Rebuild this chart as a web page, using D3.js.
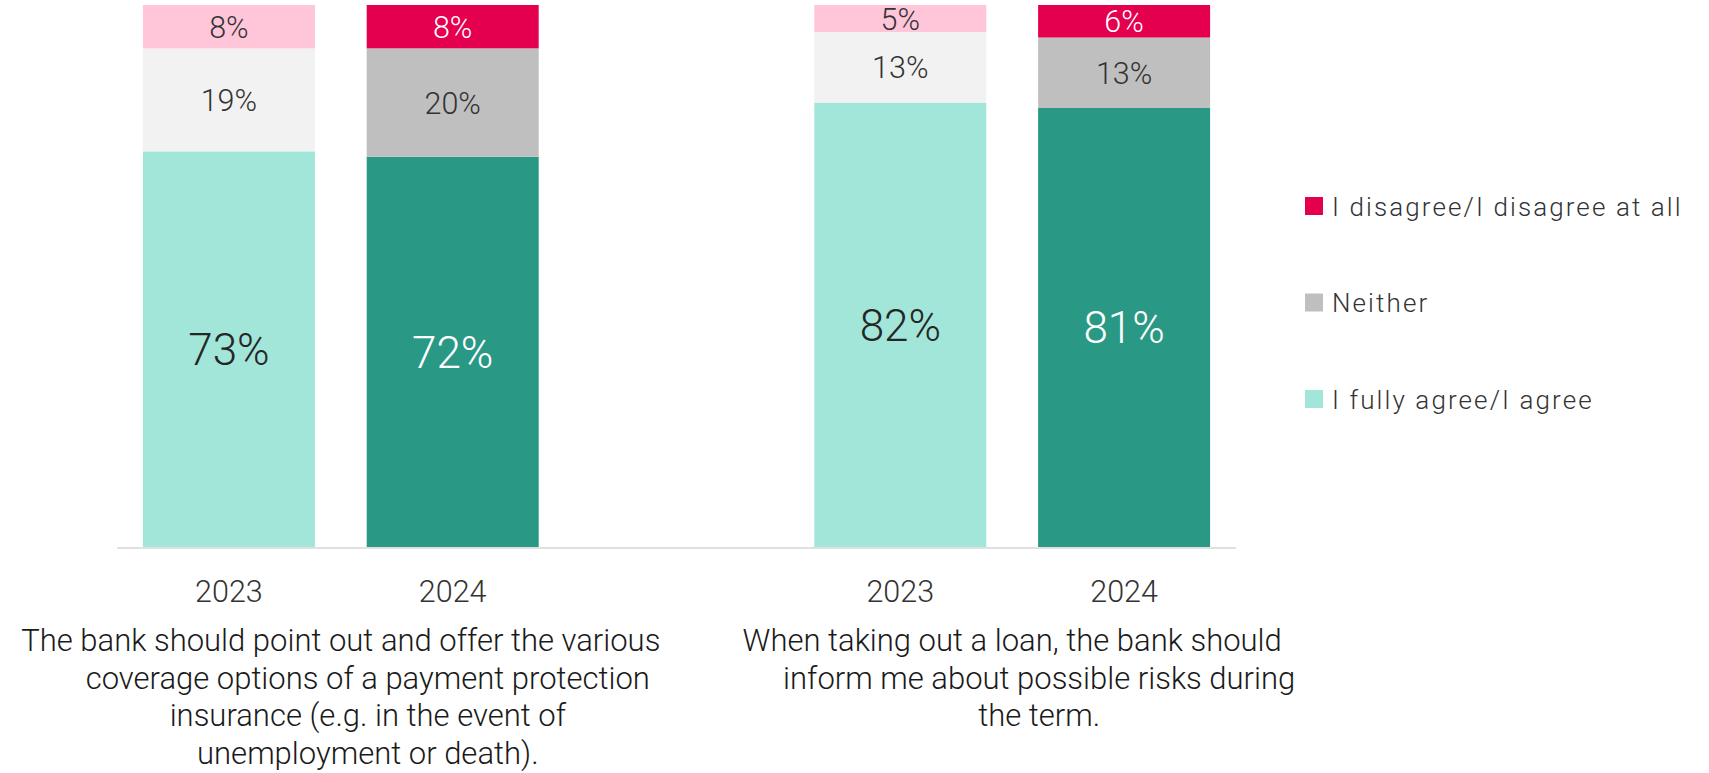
<!DOCTYPE html>
<html>
<head>
<meta charset="utf-8">
<script src="https://cdn.jsdelivr.net/npm/d3@7"></script>
<style>
  html, body { margin: 0; padding: 0; background: #ffffff; }
  svg { display: block; font-family: Roboto, "Noto Sans", sans-serif; }
</style>
</head>
<body>
<svg id="chart" width="1709" height="773"></svg>
<script>
// Survey statements (wrapped into display lines) and survey waves
const statementLines = [
  ["The bank should point out and offer the various",
   "coverage options of a payment protection",
   "insurance (e.g. in the event of",
   "unemployment or death)."],
  ["When taking out a loan, the bank should",
   "inform me about possible risks during",
   "the term."]
];
const years = ["2023", "2024"];

// Answer shares in %, ordered: statement 1 (2023, 2024), statement 2 (2023, 2024)
const agreeShare    = [73, 72, 82, 81];
const neitherShare  = [19, 20, 13, 13];
const disagreeShare = [8, 8, 5, 6];

const seriesKeys   = ["agree", "neither", "disagree"];
const seriesLabels = ["I fully agree/I agree", "Neither", "I disagree/I disagree at all"];

// 2023 bars use the pale tones, 2024 bars the strong tones
const fills = {
  "2023": { agree: "#a1e6d9", neither: "#f2f2f2", disagree: "#ffc6da" },
  "2024": { agree: "#299985", neither: "#bfbfbf", disagree: "#e5004f" }
};
const labelInk = {
  "2023": { agree: "#262626", neither: "#333333", disagree: "#333333" },
  "2024": { agree: "#ffffff", neither: "#333333", disagree: "#ffffff" }
};
const legendFills = { agree: "#a1e6d9", neither: "#bfbfbf", disagree: "#e5004f" };

// One row per bar
const rows = [];
statementLines.forEach((_, g) => {
  years.forEach((yr, k) => {
    const i = g * years.length + k;
    rows.push({
      key: g + "-" + yr, group: g, year: yr,
      agree: agreeShare[i], neither: neitherShare[i], disagree: disagreeShare[i]
    });
  });
});

const svg = d3.select("#chart");

// Five slots along the axis: two bars, an empty slot, two bars
const slotKeys = [rows[0].key, rows[1].key, "spacer", rows[2].key, rows[3].key];
const x = d3.scaleBand()
  .domain(slotKeys)
  .range([117, 1236])
  .paddingInner(0.2315)
  .paddingOuter(0.2315 / 2);

const y = d3.scaleLinear().domain([0, 100]).range([547, 5]);

const stacked = d3.stack().keys(seriesKeys)(rows);

// Bars
const layer = svg.append("g").attr("class", "bars");
stacked.forEach(series => {
  const key = series.key;
  layer.selectAll(null)
    .data(series)
    .join("rect")
    .attr("x", d => x(d.data.key))
    .attr("width", x.bandwidth())
    .attr("y", d => y(d[1]))
    .attr("height", d => y(d[0]) - y(d[1]))
    .attr("fill", d => fills[d.data.year][key]);
});

// Baseline
svg.append("line")
  .attr("x1", x.range()[0]).attr("x2", x.range()[1])
  .attr("y1", y(0) + 1).attr("y2", y(0) + 1)
  .attr("stroke", "#e0e0e0").attr("stroke-width", 2);

// Value labels centred in each segment
const labels = svg.append("g").attr("class", "labels").attr("text-anchor", "middle");
stacked.forEach(series => {
  const key = series.key;
  labels.selectAll(null)
    .data(series)
    .join("text")
    .attr("x", d => x(d.data.key) + x.bandwidth() / 2)
    .attr("y", d => (y(d[0]) + y(d[1])) / 2)
    .attr("dy", "0.36em")
    .attr("font-size", key === "agree" ? 44 : 30.5)
    .attr("font-weight", 300)
    .attr("fill", d => labelInk[d.data.year][key])
    .text(d => (d[1] - d[0]) + "%");
});

// Year tick labels
svg.append("g").attr("text-anchor", "middle")
  .selectAll("text")
  .data(rows)
  .join("text")
  .attr("x", d => x(d.key) + x.bandwidth() / 2)
  .attr("y", 601.5)
  .attr("font-size", 30.5)
  .attr("font-weight", 300)
  .attr("fill", "#333333")
  .text(d => d.year);

// Statement labels under each pair of bars
const lineGap = 37.8;
const wrapIndent = 27;
statementLines.forEach((lines, g) => {
  const pair = rows.filter(r => r.group === g);
  const cx = (x(pair[0].key) + x(pair[pair.length - 1].key) + x.bandwidth()) / 2;
  svg.append("g").attr("text-anchor", "middle")
    .selectAll("text")
    .data(lines)
    .join("text")
    .attr("x", (d, i) => cx + (i === 0 ? 0 : wrapIndent))
    .attr("y", (d, i) => 650.7 + i * lineGap)
    .attr("font-size", 31)
    .attr("font-weight", 300)
    .attr("fill", "#1a1a1a")
    .text(d => d);
});

// Legend, top entry first
const legendOrder = ["disagree", "neither", "agree"];
const legend = svg.append("g").attr("transform", "translate(1305,0)");
legendOrder.forEach((key, i) => {
  const cy = 206 + i * 96.5;
  legend.append("rect")
    .attr("x", 0).attr("y", cy - 9)
    .attr("width", 18).attr("height", 18)
    .attr("fill", legendFills[key]);
  legend.append("text")
    .attr("x", 27).attr("y", cy + 9.8)
    .attr("font-size", 26)
    .attr("font-weight", 300)
    .attr("letter-spacing", 2.1)
    .attr("fill", "#333333")
    .text(seriesLabels[seriesKeys.indexOf(key)]);
});
</script>
</body>
</html>
